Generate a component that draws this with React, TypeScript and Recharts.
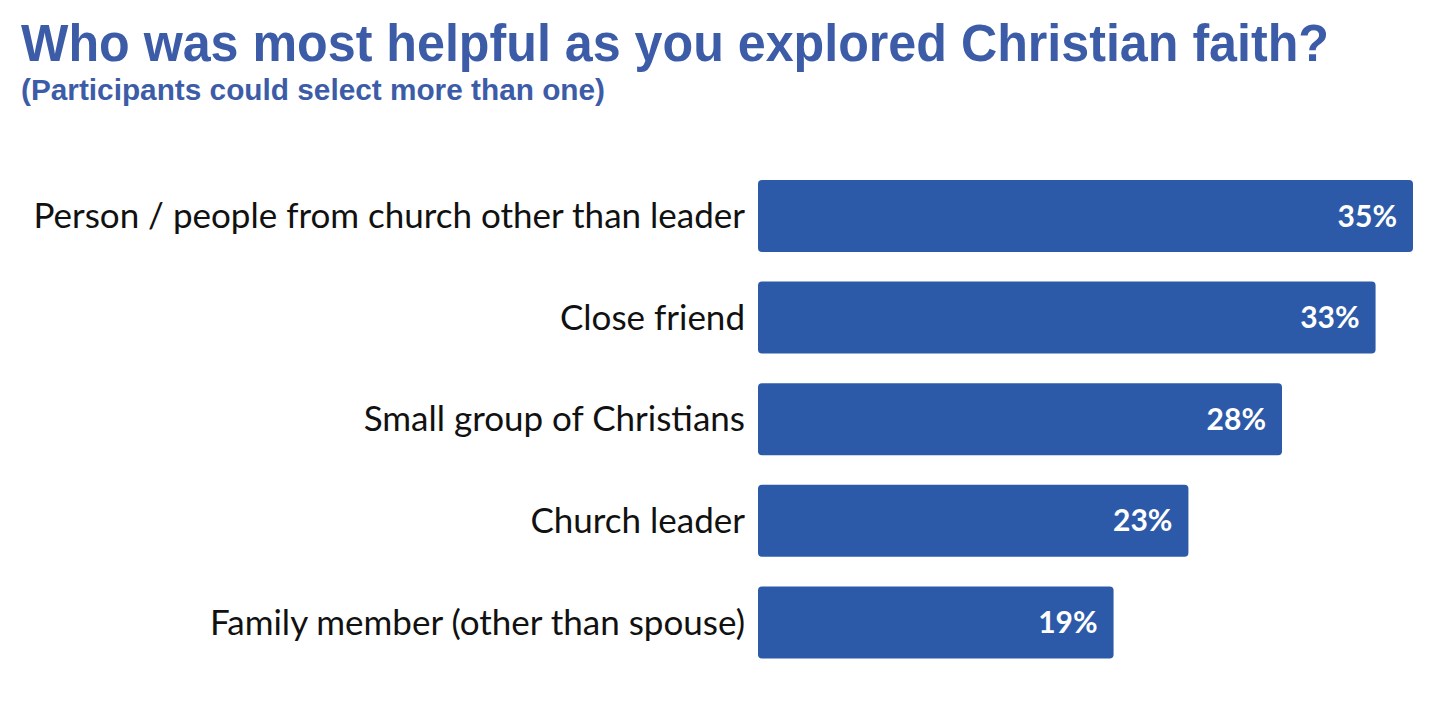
import React from "react";
import { BarChart, Bar, XAxis, YAxis, LabelList } from "recharts";

const categories = [
  "Person / people from church other than leader",
  "Close friend",
  "Small group of Christians",
  "Church leader",
  "Family member (other than spouse)",
];
const values = [35, 33, 28, 23, 19];
const data = categories.map((name, i) => ({ name, value: values[i] }));

const TITLE = "Who was most helpful as you explored Christian faith?";
const SUBTITLE = "(Participants could select more than one)";
const BAR_COLOR = "#2d5aa8";
const TITLE_COLOR = "#3d5ca8";

export default function App() {
  return (
    <div style={{ position: "absolute", left: 0, top: 0, width: 1440, height: 720, background: "#fff", overflow: "hidden" }}>
      <svg width={1440} height={120} style={{ position: "absolute", left: 0, top: 0 }}>
        <text
          x={21}
          y={61}
          fill={TITLE_COLOR}
          style={{ fontFamily: "'Liberation Sans', Arial, sans-serif", fontWeight: 700, fontSize: 51 }}
          textLength={1308}
          lengthAdjust="spacingAndGlyphs"
        >
          {TITLE}
        </text>
        <text
          x={21}
          y={100}
          fill={TITLE_COLOR}
          style={{ fontFamily: "'Liberation Sans', Arial, sans-serif", fontWeight: 700, fontSize: 30 }}
          textLength={584}
          lengthAdjust="spacingAndGlyphs"
        >
          {SUBTITLE}
        </text>
      </svg>
      <div style={{ position: "absolute", left: 0, top: 0 }}>
        <BarChart
          width={1440}
          height={720}
          data={data}
          layout="vertical"
          margin={{ top: 165, right: 27, bottom: 47, left: 0 }}
          barCategoryGap={29}
        >
          <XAxis type="number" domain={[0, 35]} hide />
          <YAxis
            type="category"
            dataKey="name"
            width={758}
            axisLine={false}
            tickLine={false}
            tickMargin={7}
            tick={{ fill: "#111", fontSize: 35, fontFamily: "Lato, 'Noto Sans', sans-serif" }}
          />
          <Bar dataKey="value" fill={BAR_COLOR} radius={4} barSize={72} isAnimationActive={false}>
            <LabelList
              dataKey="value"
              position="insideRight"
              offset={16}
              formatter={(v: any) => `${v}%`}
              style={{ fill: "#fff", fontSize: 30, fontWeight: 700, fontFamily: "Lato, 'Noto Sans', sans-serif" }}
            />
          </Bar>
        </BarChart>
      </div>
    </div>
  );
}
